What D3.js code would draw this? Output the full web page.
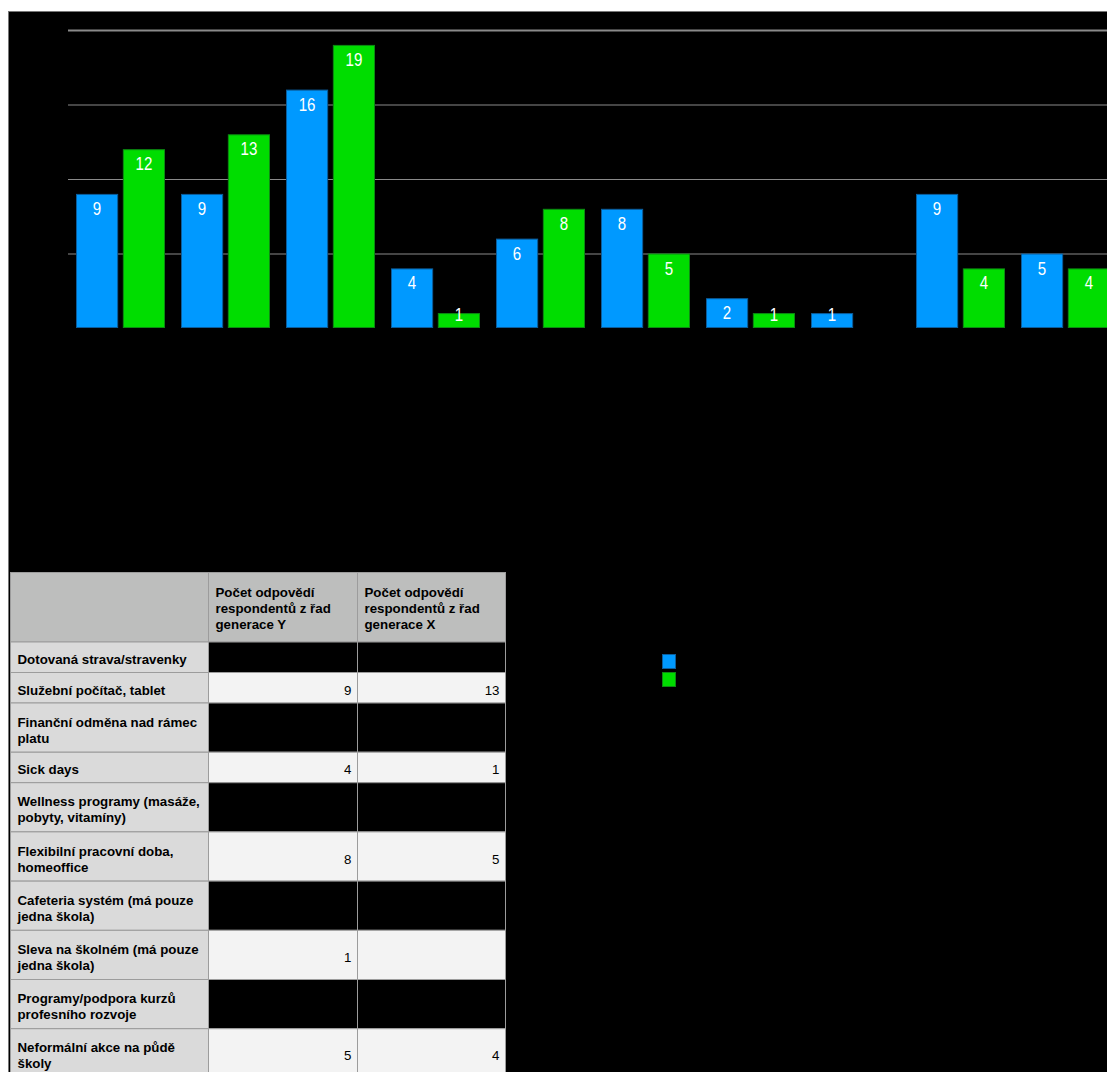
<!DOCTYPE html>
<html><head><meta charset="utf-8">
<script src="https://cdn.jsdelivr.net/npm/d3@7"></script>
<style>html,body{margin:0;padding:0;background:#fff;overflow:hidden}</style>
</head><body>
<svg id="c" width="1107" height="1072"></svg>
<script>
// ---- data ----
const tableLabels = [
  ["Dotovaná strava/stravenky"],
  ["Služební počítač, tablet"],
  ["Finanční odměna nad rámec", "platu"],
  ["Sick days"],
  ["Wellness programy (masáže,", "pobyty, vitamíny)"],
  ["Flexibilní pracovní doba,", "homeoffice"],
  ["Cafeteria systém (má pouze", "jedna škola)"],
  ["Sleva na školném (má pouze", "jedna škola)"],
  ["Programy/podpora kurzů", "profesního rozvoje"],
  ["Neformální akce na půdě", "školy"]
];
const categories = tableLabels.map(l => l.join(" "));
const seriesKeys = ["Y", "X"];
const seriesNames = ["Počet odpovědí respondentů z řad generace Y", "Počet odpovědí respondentů z řad generace X"];
const headerLines = [
  ["Počet odpovědí", "respondentů z řad", "generace Y"],
  ["Počet odpovědí", "respondentů z řad", "generace X"]
];
const genY = [9, 9, 16, 4, 6, 8, 2, 1, 9, 5];
const genX = [12, 13, 19, 1, 8, 5, 1, null, 4, 4];
const yTicks = [5, 10, 15, 20];

// ---- styles ----
const fills = {Y: "#0099ff", X: "#00dd00"};
const strokes = {Y: "#0b5d9c", X: "#0c8a12"};

const svg = d3.select("#c");
svg.append("rect").attr("width", 1107).attr("height", 1072).attr("fill", "#fff");
svg.append("rect").attr("x", 8).attr("y", 11).attr("width", 1200).attr("height", 1200).attr("fill", "#000");
svg.append("line").attr("x1", 8).attr("x2", 1107).attr("y1", 11.5).attr("y2", 11.5).attr("stroke", "#777");
svg.append("line").attr("x1", 8.5).attr("x2", 8.5).attr("y1", 11).attr("y2", 1072).attr("stroke", "#777");

// ---- chart ----
const x = d3.scaleBand().domain(categories).range([68, 1118])
  .paddingInner(16 / 105).paddingOuter(8 / 105);
const xs = d3.scaleBand().domain(seriesKeys).range([0, x.bandwidth()]).paddingInner(0.1);
const y = d3.scaleLinear().domain([0, 20]).range([328, 30]);

const grid = svg.append("g").attr("transform", "translate(68,0)")
  .call(d3.axisLeft(y).tickValues(yTicks).tickSize(-(1118 - 68)).tickFormat(""));
grid.select(".domain").remove();
grid.selectAll(".tick line").attr("stroke", "#8a8a8a")
  .attr("stroke-width", d => d === 20 ? 2 : 1);

const rows = categories.map((c, i) => ({cat: c, Y: genY[i], X: genX[i]}));
const barData = [];
rows.forEach(r => seriesKeys.forEach(k => { if (r[k] != null) barData.push({cat: r.cat, key: k, v: r[k]}); }));

svg.append("g").selectAll("rect").data(barData).join("rect")
  .attr("x", d => x(d.cat) + xs(d.key) + 0.5)
  .attr("y", d => y(d.v) + 0.5)
  .attr("width", xs.bandwidth() - 1)
  .attr("height", d => y(0) - y(d.v) - 1)
  .attr("fill", d => fills[d.key])
  .attr("stroke", d => strokes[d.key])
  .attr("stroke-width", 1);

svg.append("g").selectAll("text").data(barData).join("text")
  .attr("transform", d => `translate(${x(d.cat) + xs(d.key) + xs.bandwidth() / 2},${Math.min(y(d.v) + 21, 321)}) scale(0.84,1)`)
  .attr("text-anchor", "middle")
  .attr("font-family", "'Liberation Sans', Arial, sans-serif")
  .attr("font-size", 18)
  .attr("fill", "#fff")
  .text(d => d.v);

// ---- legend ----
const lg = svg.append("g");
seriesKeys.forEach((k, i) => {
  lg.append("rect").attr("x", 662.5).attr("y", 654.5 + i * 18).attr("width", 13).attr("height", 14)
    .attr("fill", fills[k]).attr("stroke", strokes[k]);
});

// ---- table ----
const colX = [10.5, 208.5, 357.5, 505.5];
const headerTop = 572.5, headerH = 69.5;
const rowH = n => 18.7 * n + 11.8;
const tfont = "'Liberation Sans', Arial, Helvetica, sans-serif";
const tsize = 13.3;
const tb = svg.append("g");

function cell(x0, x1, y0, h, fill) {
  tb.append("rect").attr("x", x0).attr("y", y0).attr("width", x1 - x0).attr("height", h)
    .attr("fill", fill).attr("stroke", "#9c9c9c").attr("stroke-width", 1);
}
function lines(arr, xPos, cy, anchor, bold, color) {
  const n = arr.length;
  arr.forEach((t, k) => {
    tb.append("text").attr("x", xPos).attr("y", cy + (k - (n - 1) / 2) * 16 + 7)
      .attr("text-anchor", anchor).attr("font-family", tfont).attr("font-size", tsize)
      .attr("font-weight", bold ? "bold" : "normal").attr("fill", color).text(t);
  });
}

// header
cell(colX[0], colX[1], headerTop, headerH, "#bdbebd");
headerLines.forEach((hl, j) => {
  cell(colX[j + 1], colX[j + 2], headerTop, headerH, "#bdbebd");
  lines(hl, colX[j + 1] + 7, headerTop + headerH / 2 - 1, "start", true, "#000");
});

let yy = headerTop + headerH;
tableLabels.forEach((lab, i) => {
  const h = rowH(lab.length);
  const dark = i % 2 === 0;
  cell(colX[0], colX[1], yy, h, "#dadada");
  lines(lab, colX[0] + 7, yy + h / 2, "start", true, "#000");
  [genY[i], genX[i]].forEach((v, j) => {
    cell(colX[j + 1], colX[j + 2], yy, h, dark ? "#000" : "#f3f3f3");
    if (v != null) lines([String(v)], colX[j + 2] - 6, yy + h / 2, "end", false, "#000");
  });
  yy += h;
});
</script>
</body></html>
